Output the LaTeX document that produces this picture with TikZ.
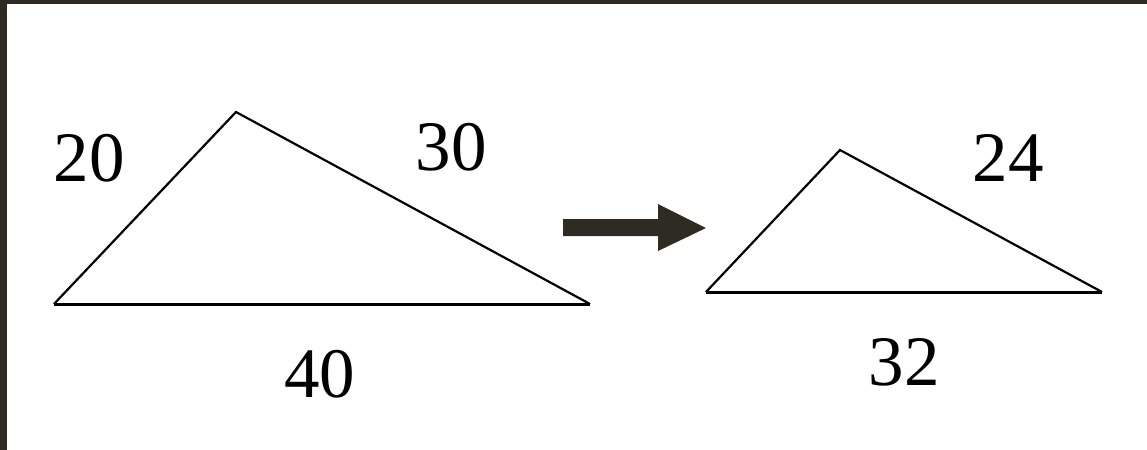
\documentclass[tikz,border=0pt]{standalone}
\usepackage{fontspec}
\setmainfont{Liberation Serif}
\usepackage{tikz}
\usetikzlibrary{calc}
\usepackage{xcolor}

\begin{document}
\begin{tikzpicture}[x=0.5pt, y=-0.5pt, line join=miter]
    \definecolor{frame}{HTML}{2E2B22}
    \tikzset{side/.style={line width=1.1pt}, base/.style={line width=1.5pt},
             len/.style={font=\fontsize{35.5}{40}\selectfont, inner sep=0pt}}
    \useasboundingbox (0,0) rectangle (1147,450);
    \fill[white] (0,0) rectangle (1147,450);
    \fill[frame] (0,0) rectangle (1147,4);
    \fill[frame] (0,0) rectangle (7,450);
    % big triangle
    \coordinate (P1) at (54, 304);
    \coordinate (Q1) at (236, 112);
    \coordinate (R1) at (590, 304);
    \draw[side] (P1) -- (Q1) -- (R1);
    \draw[base] (P1) -- (R1);
    % small triangle
    \coordinate (P2) at (706, 292);
    \coordinate (Q2) at (840, 150);
    \coordinate (R2) at (1102, 292);
    \draw[side] (P2) -- (Q2) -- (R2);
    \draw[base] (P2) -- (R2);
    % arrow
    \fill[frame] (563,219) -- (658,219) -- (658,204) -- (706,228)
        -- (658,251) -- (658,236) -- (563,236) -- cycle;
    \node[len] (a20) at (89.5, 158.5) {20};
    \node[len] (a30) at (451, 147) {30};
    \node[len] (a40) at (319.5, 374) {40};
    \node[len] (b24) at (1008, 158) {24};
    \node[len] (b32) at (904, 362) {32};
\end{tikzpicture}
\end{document}
